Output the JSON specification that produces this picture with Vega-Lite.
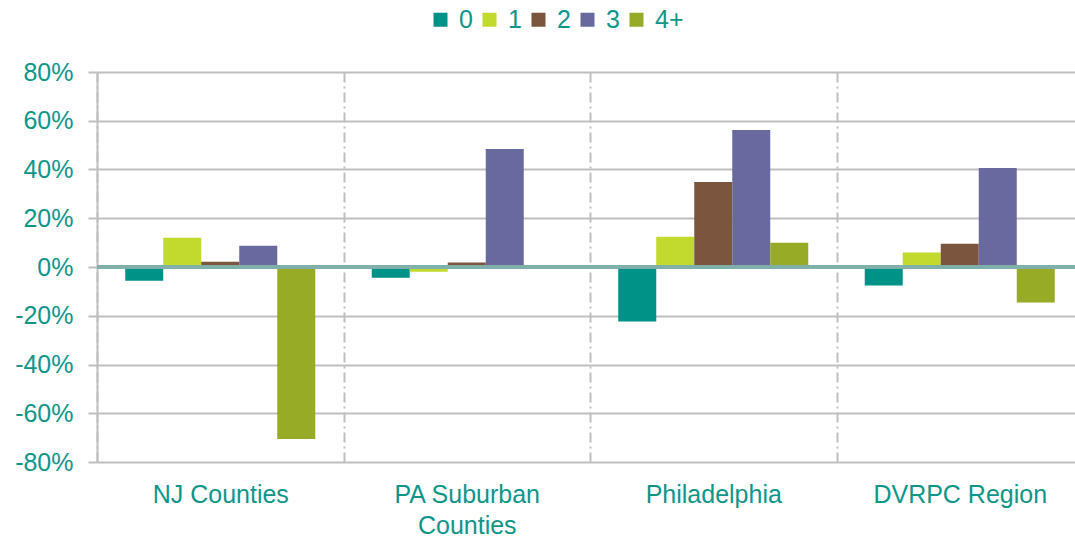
{
  "$schema": "https://vega.github.io/schema/vega-lite/v6.json",
  "width": 986,
  "height": 390,
  "autosize": {"type": "none"},
  "padding": {"left": 97, "top": 72, "right": 0, "bottom": 79},
  "background": "white",
  "config": {
    "font": "Liberation Sans",
    "view": {"stroke": null}
  },
  "data": {
    "values": [
      {"region": "NJ Counties", "size": "0", "value": -0.056},
      {"region": "NJ Counties", "size": "1", "value": 0.12},
      {"region": "NJ Counties", "size": "2", "value": 0.022},
      {"region": "NJ Counties", "size": "3", "value": 0.087},
      {"region": "NJ Counties", "size": "4+", "value": -0.706},
      {"region": "PA Suburban Counties", "size": "0", "value": -0.044},
      {"region": "PA Suburban Counties", "size": "1", "value": -0.019},
      {"region": "PA Suburban Counties", "size": "2", "value": 0.018},
      {"region": "PA Suburban Counties", "size": "3", "value": 0.484},
      {"region": "PA Suburban Counties", "size": "4+", "value": 0},
      {"region": "Philadelphia", "size": "0", "value": -0.224},
      {"region": "Philadelphia", "size": "1", "value": 0.124},
      {"region": "Philadelphia", "size": "2", "value": 0.349},
      {"region": "Philadelphia", "size": "3", "value": 0.562},
      {"region": "Philadelphia", "size": "4+", "value": 0.099},
      {"region": "DVRPC Region", "size": "0", "value": -0.076},
      {"region": "DVRPC Region", "size": "1", "value": 0.059},
      {"region": "DVRPC Region", "size": "2", "value": 0.095},
      {"region": "DVRPC Region", "size": "3", "value": 0.406},
      {"region": "DVRPC Region", "size": "4+", "value": -0.146}
    ]
  },
  "layer": [
    {
      "mark": {"type": "bar"},
      "encoding": {
        "x": {
          "field": "region",
          "type": "nominal",
          "sort": ["NJ Counties", "PA Suburban Counties", "Philadelphia", "DVRPC Region"],
          "scale": {"paddingInner": 0, "paddingOuter": 0},
          "axis": {
            "title": null,
            "orient": "bottom",
            "domain": false,
            "ticks": false,
            "tickBand": "extent",
            "grid": true,
            "gridColor": "#BFBFBF",
            "gridWidth": 2,
            "gridDash": [10, 4, 2, 4],
            "labelAngle": 0,
            "labelFontSize": 25,
            "labelColor": "#0E958A",
            "labelPadding": 20,
            "labelLineHeight": 31,
            "labelExpr": "datum.label == 'PA Suburban Counties' ? ['PA Suburban', 'Counties'] : datum.label"
          }
        },
        "xOffset": {
          "field": "size",
          "type": "nominal",
          "sort": ["0", "1", "2", "3", "4+"],
          "scale": {"paddingInner": 0, "paddingOuter": 0.743}
        },
        "y": {
          "field": "value",
          "type": "quantitative",
          "scale": {"domain": [-0.8, 0.8], "nice": false, "zero": false},
          "axis": {
            "title": null,
            "values": [-0.8, -0.6, -0.4, -0.2, 0, 0.2, 0.4, 0.6, 0.8],
            "format": ".0%",
            "labelExpr": "replace(datum.label, '\u2212', '-')",
            "domain": true,
            "domainColor": "#BFBFBF",
            "domainWidth": 2,
            "ticks": true,
            "tickColor": "#BFBFBF",
            "tickWidth": 2,
            "tickSize": 9,
            "grid": true,
            "gridColor": "#BFBFBF",
            "gridWidth": 2,
            "labelFontSize": 25,
            "labelColor": "#0E958A",
            "labelPadding": 15
          }
        },
        "color": {
          "field": "size",
          "type": "nominal",
          "sort": ["0", "1", "2", "3", "4+"],
          "scale": {
            "domain": ["0", "1", "2", "3", "4+"],
            "range": ["#009187", "#C2D92D", "#7B553D", "#686A9F", "#97AB27"]
          },
          "legend": {
            "title": null,
            "orient": "none",
            "direction": "horizontal",
            "legendX": 331,
            "legendY": -65,
            "symbolType": "square",
            "symbolSize": 196,
            "symbolStrokeWidth": 0,
            "labelFontSize": 25,
            "labelColor": "#0E958A",
            "labelOffset": 6,
            "columnPadding": 4
          }
        }
      }
    },
    {
      "mark": {"type": "rule", "color": "#7FB0AA", "strokeWidth": 2.5},
      "encoding": {
        "y": {"datum": 0}
      }
    }
  ]
}
